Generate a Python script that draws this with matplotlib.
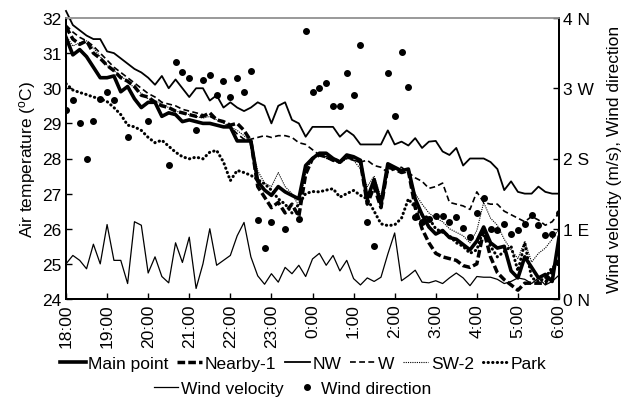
import numpy as np
import matplotlib
matplotlib.use("Agg")
from matplotlib import pyplot as plt

plt.rcParams['font.family'] = ['Liberation Sans', 'DejaVu Sans']
plt.rcParams['mathtext.fontset'] = 'custom'
plt.rcParams['mathtext.rm'] = 'Liberation Sans'

nan = np.nan

# one value every 10 minutes, 18:00 -> 6:00
time_labels = ["18:00", "19:00", "20:00", "21:00", "22:00", "23:00", "0:00",
               "1:00", "2:00", "3:00", "4:00", "5:00", "6:00"]

main_point = [31.45, 30.95, 31.1, 30.9, 30.6, 30.3, 30.3, 30.35, 29.9, 30.05,
              29.7, 29.45, 29.6, 29.6, 29.2, 29.3, 29.25, 29.05, 29.1, 29.05,
              29.0, 29.0, 28.95, 28.9, 28.9, 28.5, 28.5, 28.5, 27.35, 27.1,
              26.95, 27.2, 27.05, 26.95, 26.85, 27.8, 28.0, 28.15, 28.15, 28.0,
              27.9, 28.1, 28.05, 27.95, 26.85, 27.4, 26.7, 27.85, 27.75, 27.65,
              27.7, 26.85, 26.4, 26.05, 25.85, 25.95, 25.75, 25.7, 25.55, 25.4,
              25.65, 26.05, 25.6, 25.45, 25.5, 24.8, 24.6, 25.2, 24.9, 24.6,
              24.7, 24.5, 25.75]

nearby1 = [31.75, 31.4, 31.25, 31.35, 31.0, 30.85, 30.65, 30.5, 30.3, 30.2,
           30.05, 29.8, 29.75, 29.6, 29.5, 29.45, 29.35, 29.3, 29.25, 29.2,
           29.2, 29.3, 29.1, 29.05, 28.95, 29.0, 28.8, 28.5, 27.2, 26.9,
           26.6, 26.75, 26.45, 26.7, 26.35, 27.55, 28.0, 28.1, 28.05, 27.95,
           27.9, 28.05, 28.0, 27.9, 26.7, 27.2, 26.6, 27.75, 27.7, 27.6,
           27.65, 26.6, 26.0, 25.6, 25.3, 25.2, 25.15, 25.1, 24.95, 24.9,
           25.0, 25.95, 25.2, 24.75, 24.55, 24.4, 24.25, 24.45, 24.45, 24.45,
           24.45, 24.8, 25.1]

nw = [32.2, 31.8, 31.65, 31.5, 31.4, 31.4, 31.05, 31.0, 30.85, 30.7,
      30.55, 30.45, 30.3, 30.1, 30.35, 30.0, 30.25, 30.0, 29.75, 30.0,
      30.0, 29.65, 29.8, 29.45, 29.6, 29.45, 29.35, 29.45, 29.6, 29.5,
      29.0, 29.5, 29.6, 29.1, 29.0, 28.62, 28.9, 28.9, 28.9, 28.9,
      28.62, 28.8, 28.66, 28.4, 28.4, 28.4, 28.4, 28.8, 28.4, 28.48,
      28.37, 28.58, 28.3, 28.48, 28.5, 28.2, 28.1, 28.3, 27.8, 28.0,
      28.0, 28.0, 27.9, 27.7, 27.1, 27.35, 27.05, 27.0, 27.0, 27.2,
      27.05, 27.0, 27.0]

w = [31.8, 31.6, 31.45, 31.35, 31.2, 31.0, 30.8, 30.6, 30.45, 30.3,
     30.15, 30.0, 29.85, 29.75, 29.6, 29.55, 29.5, 29.4, 29.35, 29.3,
     29.25, 29.2, 29.1, 29.05, 28.9, 28.7, 28.55, 28.55, 28.6, 28.65,
     28.6, 28.65, 28.65, 28.6, 28.45, 28.4, 28.25, 28.1, 28.05, 28.0,
     27.95, 28.0, 27.95, 27.9, 27.95, 27.8, 27.75, 27.6, 27.7, 27.75,
     27.6, 27.45, 27.35, 27.15, 27.2, 27.3, 26.75, 26.7, 26.65, 26.55,
     27.05, 26.75, 26.7, 26.7, 26.5, 26.4, 26.3, 26.2, 26.35, 26.25,
     26.1, 26.2, 26.45]

sw2 = [31.5, 31.2, 31.3, 31.35, 31.15, 30.9, 30.65, 30.5, 30.35, 30.2,
       30.0, 29.85, 29.7, 29.65, 29.55, 29.45, 29.35, 29.3, 29.25, 29.2,
       29.15, 29.2, 29.1, 29.0, 28.9, 28.8, 28.65, 28.45, 27.65, 27.3,
       27.2, 27.6, 27.2, 27.0, 26.65, 27.6, 28.0, 28.1, 28.0, 27.95,
       27.85, 28.0, 27.95, 27.7, 27.2, 27.5, 26.9, 27.75, 27.7, 27.6,
       27.6, 27.0, 26.7, 26.45, 26.3, 26.2, 26.0, 25.9, 25.8, 25.6,
       25.95, 26.75, 26.3, 26.1, 25.7, 25.4, 25.15, 25.65, 25.05, 25.3,
       25.45, 25.7, 26.0]

park = [30.13, 29.95, 29.88, 29.82, 29.75, 29.7, 29.62, 29.45, 29.25, 28.95,
        28.9, 28.8, 28.6, 28.45, 28.52, 28.35, 28.18, 28.05, 27.99, 28.04,
        27.99, 28.18, 28.23, 27.9, 27.37, 27.66, 27.6, 27.52, 27.4, 27.28,
        27.1, 26.85, 26.7, 26.45, 26.7, 27.0, 27.06, 27.05, 27.1, 27.14,
        26.9, 27.0, 27.09, 26.95, 26.85, 26.5, 26.14, 26.09, 26.11, 26.3,
        26.85, 26.6, 26.4, 26.3, 26.0, 25.9, 25.8, 25.6, 25.5, 25.3,
        25.4, 26.0, 25.5, 25.2, 25.35, 25.5, 24.8, 25.6, 24.6, 24.5,
        24.6, 24.9, 25.0]

# right axis (m/s)
wind_velocity = [0.50, 0.62, 0.55, 0.43, 0.78, 0.50, 1.06, 0.55, 0.55, 0.22,
                 1.10, 1.05, 0.37, 0.60, 0.32, 0.23, 0.80, 0.52, 0.88, 0.15,
                 0.50, 1.00, 0.48, 0.55, 0.62, 0.90, 1.09, 0.60, 0.33, 0.21,
                 0.36, 0.24, 0.45, 0.36, 0.48, 0.32, 0.57, 0.65, 0.48, 0.62,
                 0.40, 0.55, 0.29, 0.20, 0.30, 0.25, 0.31, 0.64, 0.94, 0.26,
                 0.33, 0.41, 0.24, 0.23, 0.26, 0.22, 0.30, 0.37, 0.30, 0.19,
                 0.32, 0.31, 0.31, 0.28, 0.22, 0.25, 0.30, 0.28, 0.22, 0.30,
                 0.20, 0.25, 0.34]

# right axis (0 N, 1 E, 2 S, 3 W, 4 N)
wind_direction = [2.69, 2.83, 2.51, 2.0, 2.53, 2.84, 2.94, 2.83, nan, 2.30,
                  nan, nan, 2.53, nan, nan, 1.91, 3.38, 3.23, 3.15, 2.41,
                  3.12, 3.19, 2.90, 3.10, 2.88, 3.14, 2.95, 3.24, 1.12, 0.72,
                  1.10, nan, 1.0, nan, 1.14, 3.81, 2.95, 3.0, 3.08, 2.75,
                  2.75, 3.22, 2.91, 3.62, 1.09, 0.76, nan, 3.22, 2.60, 3.51,
                  3.02, 1.17, 1.10, 1.14, 1.18, 1.18, 1.10, 1.17, 1.01, 0.88,
                  1.23, 1.44, 0.99, 0.98, 1.07, 0.93, 0.98, 1.07, 1.19, 1.06,
                  0.91, 0.92, 1.23]

right_labels = ["0 N", "1 E", "2 S", "3 W", "4 N"]

x = np.arange(len(main_point))
fs = 12.5

fig = plt.figure(figsize=(6.28, 4.02), dpi=100)
ax = fig.add_axes([66/628, 1-300/402, 493/628, 281/402])
ax2 = ax.twinx()

l_sw2, = ax.plot(x, sw2, color='black', lw=0.8, linestyle=(0, (1, 1)))
l_park, = ax.plot(x, park, color='black', lw=2.2, linestyle=(0, (0.1, 1.4)),
                  dash_capstyle='round')
l_w, = ax.plot(x, w, color='black', lw=1.2, linestyle=(0, (3.5, 2)))
l_nw, = ax.plot(x, nw, color='black', lw=1.3, clip_on=False)
l_near, = ax.plot(x, nearby1, color='black', lw=2.5, linestyle=(0, (2.2, 0.9)))
l_main, = ax.plot(x, main_point, color='black', lw=2.6)

l_vel, = ax2.plot(x, wind_velocity, color='black', lw=0.9)
l_dir, = ax2.plot(x, wind_direction, 'ko', ms=4, linestyle='none')

ax.set_xlim(0, 72)
ax.set_ylim(24, 32)
ax.set_yticks(range(24, 33))
ax.set_xticks(range(0, 73, 6))
ax.set_xticklabels(time_labels, rotation=90)
ax2.set_ylim(0, 4)
ax2.set_yticks(range(0, 5))
ax2.set_yticklabels(right_labels)

for a in (ax, ax2):
    a.tick_params(direction='in', length=4, width=1, labelsize=fs, pad=3)
    for s in ('left', 'right', 'bottom'):
        a.spines[s].set_color('black')
        a.spines[s].set_linewidth(1.4)
    a.spines['top'].set_color('#999999')
    a.spines['top'].set_linewidth(1.2)

ax.set_ylabel('Air temperature ($\\mathregular{^{o}}$C)', fontsize=fs, labelpad=3)
ax2.set_ylabel('Wind velocity (m/s), Wind direction', fontsize=fs, labelpad=9)

leg1 = fig.legend([l_main, l_near, l_nw, l_w, l_sw2, l_park],
                  ["Main point", "Nearby-1", "NW", "W", "SW-2", "Park"],
                  loc='center', bbox_to_anchor=(0.483, 0.094), ncol=6,
                  frameon=False, fontsize=fs, handlelength=1.45,
                  handletextpad=0.15, columnspacing=0.5, borderpad=0)
leg2 = fig.legend([l_vel, l_dir], ["Wind velocity", "Wind direction"],
                  loc='center', bbox_to_anchor=(0.466, 0.031), ncol=2,
                  frameon=False, fontsize=fs, handlelength=1.4,
                  handletextpad=0.12, columnspacing=0.65, borderpad=0)

fig.savefig("out.png", dpi=100)
